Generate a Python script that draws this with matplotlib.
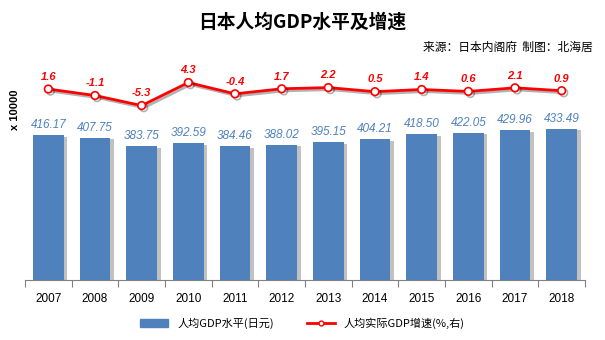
import matplotlib.pyplot as plt
import matplotlib.patheffects as pe

plt.rcParams['font.family'] = ['Liberation Sans', 'Noto Sans CJK SC', 'DejaVu Sans']

years = ["2007", "2008", "2009", "2010", "2011", "2012",
         "2013", "2014", "2015", "2016", "2017", "2018"]
gdp_per_capita = [416.17, 407.75, 383.75, 392.59, 384.46, 388.02,
                  395.15, 404.21, 418.50, 422.05, 429.96, 433.49]
growth = [1.6, -1.1, -5.3, 4.3, -0.4, 1.7, 2.2, 0.5, 1.4, 0.6, 2.1, 0.9]

bar_color = "#4F81BD"
line_color = "#FF0000"

fig = plt.figure(figsize=(6.05, 3.4), dpi=100)
ax = fig.add_axes([25 / 605, 1 - 280 / 340, 560 / 605, 220 / 340])
x = range(len(years))

shadow = [pe.SimplePatchShadow(offset=(2.5, -1), shadow_rgbFace="#999999", alpha=0.6), pe.Normal()]
ax.bar(x, gdp_per_capita, width=0.66, color=bar_color, zorder=2, path_effects=shadow)
for xi, v in zip(x, gdp_per_capita):
    ax.text(xi, v + 12, f"{v:.2f}", ha="center", va="bottom", fontsize=8.5,
            style="italic", color=bar_color)

ax.set_xlim(-0.5, len(years) - 0.5)
ax.set_ylim(0, 632)
ax.set_yticks([])
for s in ["top", "right", "left"]:
    ax.spines[s].set_visible(False)
ax.spines["bottom"].set_color("#808080")
ax.set_xticks([i - 0.5 for i in range(len(years) + 1)])
ax.set_xticklabels([])
ax.tick_params(axis="x", length=5, color="#808080", direction="out")
for xi, yr in zip(x, years):
    ax.text(xi, -37, yr, ha="center", va="top", fontsize=8.5, color="black")

ax2 = ax.twinx()
ax2.set_ylim(-78, 13.7)
ax2.plot(x, growth, color=line_color, lw=2, marker="o", markersize=5.5,
         markerfacecolor="white", markeredgecolor=line_color, markeredgewidth=1.2,
         zorder=3, path_effects=[pe.SimpleLineShadow(offset=(1.5, -1.5), alpha=0.3), pe.Normal()])
for xi, v in zip(x, growth):
    ax2.text(xi, v + 3, f"{v}", ha="center", va="bottom", fontsize=8,
             style="italic", fontweight="bold", color=line_color)
ax2.axis("off")

fig.text(0.5, 1 - 22 / 340, "日本人均GDP水平及增速", ha="center", va="center",
         fontsize=13.5, fontweight="bold", family=["Noto Sans CJK SC"])
fig.text(593 / 605, 1 - 47 / 340, "来源：日本内阁府  制图：北海居", ha="right", va="center",
         fontsize=8.5, style="italic", family=["Noto Sans CJK SC"])
fig.text(15 / 605, 1 - 110 / 340, "x 10000", ha="center", va="center", rotation=90,
         fontsize=8, fontweight="bold")

h1 = plt.Rectangle((0, 0), 1, 1, color=bar_color)
h2 = plt.Line2D([], [], color=line_color, lw=2, marker="o", markersize=3.5,
                markerfacecolor="white", markeredgecolor=line_color)
fig.legend([h1, h2], ["人均GDP水平(日元)", "人均实际GDP增速(%,右)"], loc="center",
           bbox_to_anchor=(0.5, 1 - 323 / 340), ncol=2, frameon=False,
           handlelength=2.5, columnspacing=3, prop={"family": ["Noto Sans CJK SC"], "size": 8})

fig.savefig("out.png", dpi=100)
